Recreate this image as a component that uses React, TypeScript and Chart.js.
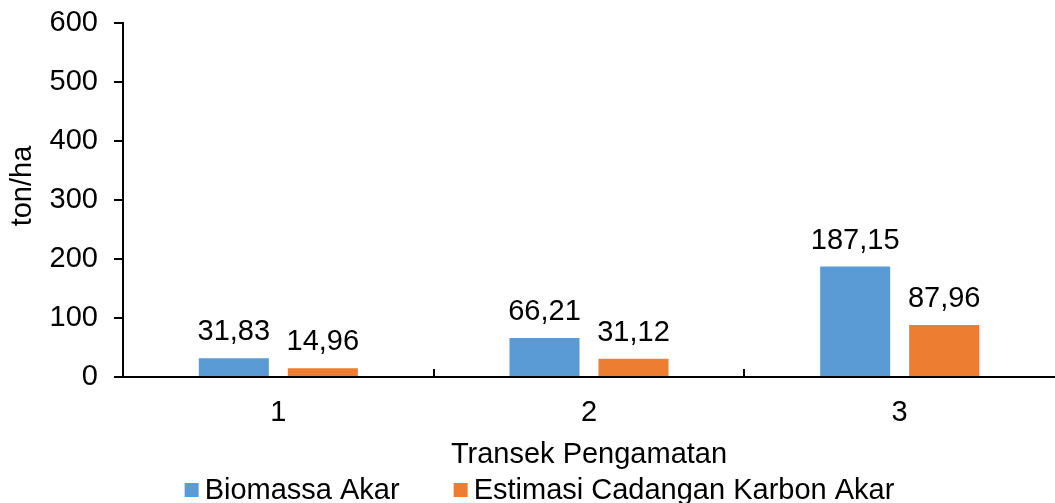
import { useEffect, useRef } from "react";
import { Chart, registerables } from "chart.js";

Chart.register(...registerables);

// Observation transects and root values (ton/ha)
const transects = ["1", "2", "3"];
const biomassaAkar = [31.83, 66.21, 187.15];
const cadanganKarbonAkar = [14.96, 31.12, 87.96];
const seriesNames = ["Biomassa Akar", "Estimasi Cadangan Karbon Akar"];
const seriesColors = ["#5B9BD5", "#ED7D31"];
const yMin = 0;
const yMax = 600;
const yStep = 100;
const yAxisTitle = "ton/ha";
const xAxisTitle = "Transek Pengamatan";

const FONT = "'Liberation Sans', Arial, Helvetica, sans-serif";
const TEXT = "#000000";
const SIZE = 29;

const formatValue = (v: number) => v.toFixed(2).replace(".", ",");

// Value labels above each bar, decimal comma
const valueLabels = {
  id: "valueLabels",
  afterDatasetsDraw(chart: any) {
    const ctx = chart.ctx;
    ctx.save();
    ctx.font = `${SIZE}px ${FONT}`;
    ctx.fillStyle = TEXT;
    ctx.textAlign = "center";
    ctx.textBaseline = "alphabetic";
    chart.data.datasets.forEach((ds: any, di: number) => {
      const meta = chart.getDatasetMeta(di);
      meta.data.forEach((bar: any, i: number) => {
        ctx.fillText(formatValue(ds.data[i]), bar.x, bar.y - 18);
      });
    });
    ctx.restore();
  },
};

// Short inward tick marks on the category axis between groups
const categoryDividers = {
  id: "categoryDividers",
  afterDraw(chart: any) {
    const x = chart.scales.x;
    const ctx = chart.ctx;
    ctx.save();
    ctx.strokeStyle = TEXT;
    ctx.lineWidth = 2;
    for (let i = 1; i < chart.data.labels.length; i++) {
      const px = Math.round(x.getPixelForValue(i - 0.5));
      ctx.beginPath();
      ctx.moveTo(px, x.top);
      ctx.lineTo(px, x.top - 8);
      ctx.stroke();
    }
    ctx.restore();
  },
};

// Rotated value-axis title, set slightly above the plot's middle
const valueAxisTitle = {
  id: "valueAxisTitle",
  afterDraw(chart: any) {
    const ctx = chart.ctx;
    const area = chart.chartArea;
    ctx.save();
    ctx.font = `${SIZE}px ${FONT}`;
    ctx.fillStyle = TEXT;
    ctx.translate(23, (area.top + area.bottom) / 2 - 14);
    ctx.rotate(-Math.PI / 2);
    ctx.textAlign = "center";
    ctx.textBaseline = "middle";
    ctx.fillText(yAxisTitle, 0, 0);
    ctx.restore();
  },
};

// Legend row under the axis title
const bottomLegend = {
  id: "bottomLegend",
  afterDraw(chart: any) {
    const ctx = chart.ctx;
    const box = 14;
    const gapText = 6;
    const gapItem = 54;
    ctx.save();
    ctx.font = `${SIZE}px ${FONT}`;
    const items = chart.data.datasets.map((ds: any) => ({
      label: ds.label,
      color: ds.backgroundColor,
      w: box + gapText + ctx.measureText(ds.label).width,
    }));
    const total =
      items.reduce((s: number, it: any) => s + it.w, 0) + gapItem * (items.length - 1);
    let x = chart.width / 2 - total / 2 + 12;
    const baseline = 499;
    items.forEach((it: any) => {
      ctx.fillStyle = it.color;
      ctx.fillRect(x, 483, box, box);
      ctx.fillStyle = TEXT;
      ctx.textAlign = "left";
      ctx.textBaseline = "alphabetic";
      ctx.fillText(it.label, x + box + gapText, baseline);
      x += it.w + gapItem;
    });
    ctx.restore();
  },
};

export default function App() {
  const canvasRef = useRef<HTMLCanvasElement | null>(null);

  useEffect(() => {
    if (!canvasRef.current) return;
    const chart = new Chart(canvasRef.current, {
      type: "bar",
      data: {
        labels: transects,
        datasets: [
          {
            label: seriesNames[0],
            data: biomassaAkar,
            backgroundColor: seriesColors[0],
            borderWidth: 0,
            categoryPercentage: 0.573,
            barPercentage: 0.787,
          },
          {
            label: seriesNames[1],
            data: cadanganKarbonAkar,
            backgroundColor: seriesColors[1],
            borderWidth: 0,
            categoryPercentage: 0.573,
            barPercentage: 0.787,
          },
        ],
      },
      options: {
        responsive: false,
        animation: false,
        devicePixelRatio: 1,
        layout: { padding: { left: 0, right: 0, top: 23, bottom: 0 } },
        plugins: {
          legend: { display: false },
          tooltip: { enabled: false },
        },
        scales: {
          x: {
            type: "category",
            offset: true,
            grid: { display: false, drawTicks: false },
            border: { display: true, color: TEXT, width: 2 },
            ticks: { color: TEXT, padding: 19, font: { size: SIZE, family: FONT } },
            title: {
              display: true,
              text: xAxisTitle,
              color: TEXT,
              font: { size: SIZE, family: FONT },
              padding: { top: 0, bottom: 31 },
            },
            afterFit: (scale: any) => {
              scale.height = 126;
              scale.paddingLeft = 0;
              scale.paddingRight = 0;
            },
          },
          y: {
            min: yMin,
            max: yMax,
            grid: {
              display: true,
              drawOnChartArea: false,
              drawTicks: true,
              tickLength: 9,
              color: TEXT,
              lineWidth: 2,
            },
            border: { display: true, color: TEXT, width: 2 },
            ticks: {
              stepSize: yStep,
              padding: 16,
              color: TEXT,
              font: { size: SIZE, family: FONT },
            },
            afterFit: (scale: any) => {
              scale.width = 123;
              scale.paddingTop = 0;
              scale.paddingBottom = 0;
            },
          },
        },
      },
      plugins: [valueLabels, categoryDividers, valueAxisTitle, bottomLegend],
    });
    return () => chart.destroy();
  }, []);

  return (
    <div style={{ position: "fixed", left: 0, top: 0, width: 1055, height: 503, background: "#fff" }}>
      <canvas ref={canvasRef} width={1055} height={503} style={{ display: "block" }} />
    </div>
  );
}
